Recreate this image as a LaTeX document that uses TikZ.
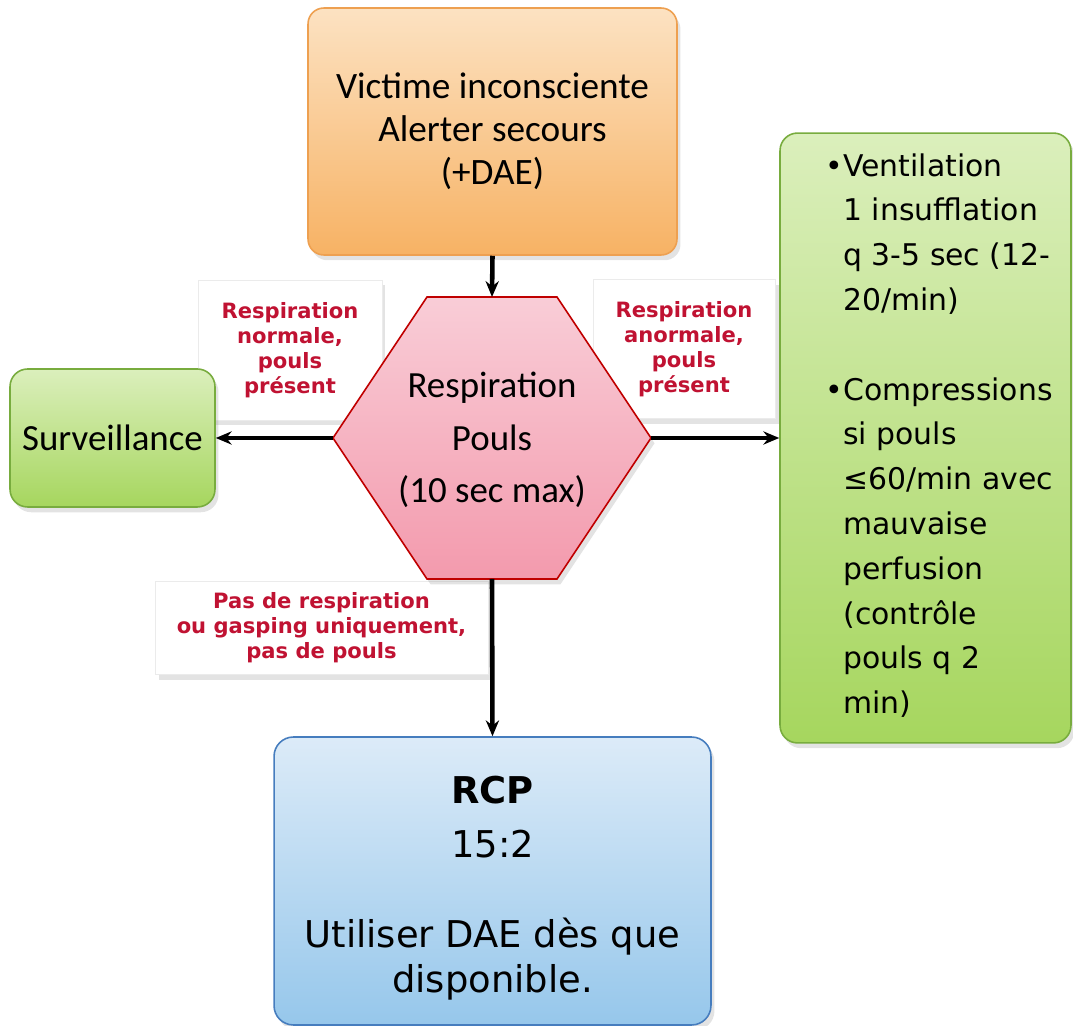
\documentclass[tikz,border=0pt]{standalone}
\usepackage{fontspec}
\setmainfont{Carlito}
\newfontfamily\verd{DejaVu Sans}
\usepackage{tikz}
\usetikzlibrary{arrows.meta}
\usetikzlibrary{shadows}
\definecolor{orgtop}{RGB}{252,226,194}
\definecolor{orgbot}{RGB}{247,178,100}
\definecolor{orgline}{RGB}{238,160,80}
\definecolor{pinktop}{RGB}{249,205,215}
\definecolor{pinkbot}{RGB}{243,154,173}
\definecolor{pinkline}{RGB}{192,0,0}
\definecolor{grtop}{RGB}{219,239,188}
\definecolor{grbot}{RGB}{166,214,94}
\definecolor{grline}{RGB}{120,172,62}
\definecolor{bltop}{RGB}{220,235,248}
\definecolor{blbot}{RGB}{150,199,235}
\definecolor{blline}{RGB}{70,125,190}
\definecolor{labred}{RGB}{192,18,50}
\tikzstyle{boxshadow}=[drop shadow={opacity=0.22,shadow xshift=2pt,shadow yshift=-3pt}]
\tikzstyle{orangebox}=[draw=orgline,line width=0.9pt,top color=orgtop,bottom color=orgbot,rounded corners=9pt,boxshadow,align=center]
\tikzstyle{greenbox}=[draw=grline,line width=0.9pt,top color=grtop,bottom color=grbot,rounded corners=10pt,boxshadow,align=center]
\tikzstyle{bluebox}=[draw=blline,line width=0.9pt,top color=bltop,bottom color=blbot,rounded corners=11pt,boxshadow,align=center]
\tikzstyle{hexbox}=[draw=pinkline,line width=0.9pt,top color=pinktop,bottom color=pinkbot,boxshadow]
\tikzstyle{labelbox}=[draw=black!8,fill=white,boxshadow,align=center,text=labred,font=\verd\bfseries\fontsize{12}{14.2}\selectfont]
\tikzstyle{flow}=[line width=2.6pt,-{Stealth[length=9pt,width=7.5pt]}]

\begin{document}
\begin{tikzpicture}[x=0.02cm,y=-0.02cm]
        \useasboundingbox (0,0) rectangle (1073,1026);
        % condition labels, behind the shapes
        \node[labelbox,minimum width=3.68cm,minimum height=2.8cm] (lnorm) at (290,350) {Respiration\\normale,\\pouls\\présent};
        \node[labelbox,minimum width=3.64cm,minimum height=2.78cm] (lanorm) at (684,349) {Respiration\\anormale,\\pouls\\présent};
        \node[labelbox,minimum width=6.66cm,minimum height=1.86cm] (lpas) at (321.5,628) {Pas de respiration\\ou gasping uniquement,\\pas de pouls};
        % boxes
        \node[orangebox,minimum width=7.38cm,minimum height=4.94cm,font=\fontsize{21.2}{24.4}\selectfont] (alerte) at (492.5,131.5) {Victime inconsciente\\Alerter secours\\(+DAE)};
        \node[greenbox,minimum width=4.1cm,minimum height=2.76cm,font=\fontsize{21}{25}\selectfont] (surv) at (112.5,438) {Surveillance};
        \node[greenbox,minimum width=5.82cm,minimum height=12.2cm] (ventil) at (925.5,438) {};
        \node[anchor=north west,inner sep=0pt,align=left,font=\verd\fontsize{17}{25.5}\selectfont] (ventxt) at (843,153) {\llap{\textbullet}Ventilation\\1 insufflation\\q 3-5 sec (12-\\20/min)\\[25.5pt]\llap{\textbullet}Compressions\\si pouls\\≤60/min avec\\mauvaise\\perfusion\\(contrôle\\pouls q 2\\min)};
        \node[bluebox,minimum width=8.74cm,minimum height=5.76cm] (rcp) at (492.5,881) {};
        \node[align=center,font=\verd\fontsize{21}{25.5}\selectfont] (rcptxt) at (492.5,888) {\textbf{RCP}\\[5.5pt]15:2\\[25.5pt]Utiliser DAE dès que\\disponible.};
        % hexagon
        \coordinate (hexT) at (492,297);
        \coordinate (hexB) at (492,579);
        \coordinate (hexL) at (333,438);
        \coordinate (hexR) at (651,438);
        \draw[hexbox] (427,297) -- (557,297) -- (hexR) -- (557,579) -- (427,579) -- (hexL) -- cycle;
        \node[align=center,font=\fontsize{21}{30}\selectfont] (pouls) at (492,440) {Respiration\\Pouls\\(10 sec max)};
        % arrows
        \draw[flow] (alerte.south) -- (hexT);
        \draw[flow] (hexL) -- (surv.east);
        \draw[flow] (hexR) -- (ventil.west);
        \draw[flow] (hexB) -- (rcp.north);
      \end{tikzpicture}
\end{document}
